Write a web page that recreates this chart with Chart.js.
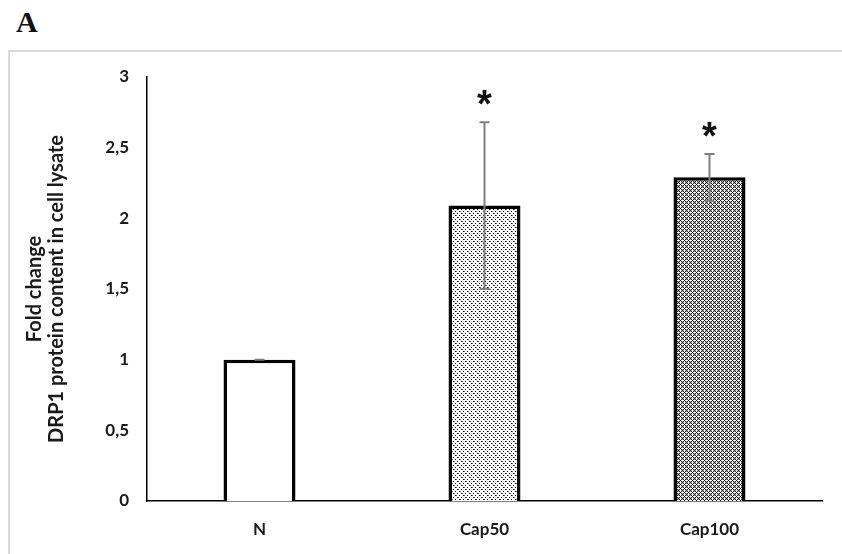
<!DOCTYPE html>
<html>
<head>
<meta charset="utf-8">
<script src="https://cdn.jsdelivr.net/npm/chart.js@4/dist/chart.umd.min.js"></script>
<style>
  html, body { margin: 0; padding: 0; background: #fff; }
  #wrap { position: relative; width: 842px; height: 554px; overflow: hidden; }
  #panel { position: absolute; left: 16px; top: 7px; font-family: "Liberation Serif", "Times New Roman", serif; font-weight: bold; font-size: 30px; color: #111; line-height: 1; }
  #frame { position: absolute; left: 8px; top: 50px; width: 900px; height: 600px; border: 2px solid #d9d9d9; box-sizing: border-box; }
  #c { position: absolute; left: 0; top: 0; }
</style>
</head>
<body>
<div id="wrap">
  <div id="panel">A</div>
  <div id="frame"></div>
  <canvas id="c" width="842" height="554"></canvas>
</div>
<script>
const categories = ["N", "Cap50", "Cap100"];
const values = [1.0, 2.09, 2.29];
const errors = [0.0, 0.59, 0.165];
const significance = ["", "*", "*"];
const yTicks = [0, 0.5, 1, 1.5, 2, 2.5, 3];
const yTitle = ["Fold change", "DRP1 protein content in cell lysate"];

function makePattern(kind) {
  const t = document.createElement("canvas");
  t.width = 8; t.height = 8;
  const g = t.getContext("2d");
  g.fillStyle = "#fff"; g.fillRect(0, 0, 8, 8);
  if (kind === "dots") {
    g.fillStyle = "#000";
    [[1,1],[5,1],[3,3],[7,3],[1,5],[5,5],[3,7],[7,7]].forEach(p => g.fillRect(p[0], p[1], 1, 1));
    g.fillStyle = "#777";
    [[2,1],[6,5],[4,3],[0,7]].forEach(p => g.fillRect(p[0], p[1], 1, 1));
  } else {
    for (let y = 0; y < 8; y++) for (let x = 0; x < 8; x++) {
      if (x === 0 || y === 0 || x === 4 || y === 4) {
        if ((x === 0 || x === 4) && (y === 0 || y === 4)) { g.fillStyle = "#000"; g.fillRect(x, y, 1, 1); }
        continue;
      }
      if ((x + y) % 2 === 0) { g.fillStyle = "#222"; g.fillRect(x, y, 1, 1); }
      else { g.fillStyle = "#b0b0b0"; g.fillRect(x, y, 1, 1); }
    }
  }
  return document.getElementById("c").getContext("2d").createPattern(t, "repeat");
}

const fills = ["#ffffff", makePattern("dots"), makePattern("cross")];
const fontFam = "Lato, 'Open Sans', sans-serif";

const errorBarPlugin = {
  id: "errorBars",
  afterDatasetsDraw(chart) {
    const ctx = chart.ctx;
    const meta = chart.getDatasetMeta(0);
    const ys = chart.scales.y;
    ctx.save();
    meta.data.forEach((bar, i) => {
      const x = bar.x;
      const top = ys.getPixelForValue(values[i] + errors[i]);
      const bot = ys.getPixelForValue(values[i] - errors[i]);
      ctx.strokeStyle = "#7f7f7f";
      ctx.lineWidth = 2;
      ctx.beginPath();
      ctx.moveTo(x, top); ctx.lineTo(x, bot);
      ctx.moveTo(x - 5, top); ctx.lineTo(x + 5, top);
      ctx.moveTo(x - 5, bot); ctx.lineTo(x + 5, bot);
      ctx.stroke();
      if (significance[i]) {
        ctx.fillStyle = "#111";
        ctx.font = "bold 38px 'Liberation Sans', Arial, sans-serif";
        ctx.textAlign = "center";
        ctx.textBaseline = "middle";
        ctx.fillText(significance[i], x, top - 16);
      }
    });
    ctx.restore();
  }
};

new Chart(document.getElementById("c"), {
  type: "bar",
  data: {
    labels: categories,
    datasets: [{
      data: values,
      backgroundColor: fills,
      borderColor: "#000",
      borderWidth: 3.5,
      borderSkipped: "bottom",
      barPercentage: 1.0,
      categoryPercentage: 0.32
    }]
  },
  options: {
    responsive: false,
    animation: false,
    events: [],
    layout: { padding: { left: 24, right: 20, top: 77, bottom: 10 } },
    plugins: { legend: { display: false }, tooltip: { enabled: false } },
    scales: {
      x: {
        grid: { display: false, drawTicks: false },
        border: { display: true, color: "#000", width: 1.5 },
        ticks: { color: "#1a1a1a", padding: 18, font: { family: fontFam, weight: "bold", size: 17 } },
        afterFit(s) { s.height = 43; }
      },
      y: {
        min: 0, max: 3,
        afterBuildTicks(s) { s.ticks = yTicks.map(v => ({ value: v })); },
        grid: { display: false, drawTicks: false },
        border: { display: true, color: "#000", width: 1.5 },
        ticks: {
          color: "#1a1a1a", padding: 18,
          font: { family: fontFam, weight: "bold", size: 17 },
          callback: v => String(v).replace(".", ",")
        },
        title: {
          display: true, text: yTitle, color: "#1a1a1a",
          font: { family: fontFam, weight: "bold", size: 20, lineHeight: 1.1 },
          padding: { top: 0, bottom: 0 }
        },
        afterFit(s) { s.width = 123; }
      }
    }
  },
  plugins: [errorBarPlugin]
});
</script>
</body>
</html>
